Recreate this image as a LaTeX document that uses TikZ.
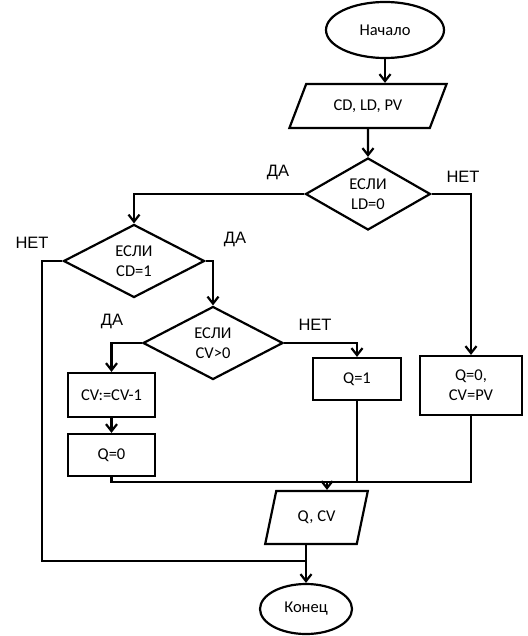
\documentclass[tikz,border=0pt]{standalone}
\usepackage{fontspec}
\setmainfont{Carlito}
\newfontfamily\labelfont{Liberation Sans}
\usetikzlibrary{arrows.meta,shapes.geometric}

\begin{document}
\begin{tikzpicture}[x=1pt,y=-1pt,line width=2.2pt,
                    >={Straight Barb[length=7pt,width=11pt]}]
            \useasboundingbox (0,0) rectangle (527,636);

            \begin{scope}[every node/.style={draw,line width=2.2pt,inner sep=0pt,align=center,
                                             font=\fontsize{16.5}{20}\selectfont}]
                \node[ellipse,minimum width=118pt,minimum height=56pt] (start) at (385,30) {Начало};
                \node[trapezium,trapezium left angle=54,trapezium right angle=126,
                      trapezium stretches=true,minimum width=158pt,minimum height=44pt] (in) at (368,106) {CD, LD, PV};
                \node[diamond,minimum width=125pt,minimum height=72pt] (ifLD) at (368,194) {ЕСЛИ\\LD=0};
                \node[diamond,minimum width=141pt,minimum height=73pt] (ifCD) at (134,261) {ЕСЛИ\\CD=1};
                \node[diamond,minimum width=140pt,minimum height=73pt] (ifCV) at (213,343) {ЕСЛИ\\CV>0};
                \node[minimum width=87pt,minimum height=44pt] (dec) at (111.5,395) {CV:=CV-1};
                \node[minimum width=87pt,minimum height=42pt] (q0) at (111.5,455) {Q=0};
                \node[minimum width=88pt,minimum height=42pt] (q1) at (357,379) {Q=1};
                \node[minimum width=102pt,minimum height=59pt] (load) at (471,385.5) {Q=0,\\CV=PV};
                \node[trapezium,trapezium left angle=68,trapezium right angle=112,
                      trapezium stretches=true,minimum width=103pt,minimum height=53pt] (out) at (316.5,517.5) {Q, CV};
                \node[ellipse,minimum width=92pt,minimum height=50pt] (end) at (306,609) {Конец};
            \end{scope}

            \begin{scope}[every node/.style={font=\labelfont\fontsize{16.5}{20}\selectfont}]
                \node (da1) at (278,172) {ДА};
                \node (net1) at (463,177) {НЕТ};
                \node (net2) at (32,243) {НЕТ};
                \node (da2) at (235,239) {ДА};
                \node (da3) at (112,321) {ДА};
                \node (net3) at (315,325) {НЕТ};
            \end{scope}

            \coordinate (back) at (42,561);
            \coordinate (merge) at (327,482);

            \draw[->] (start.south) -- (start.south |- in.north);
            \draw[->] (in.south) -- (ifLD.north);
            \draw[->] (ifLD.west) -| (ifCD.north);
            \draw[->] (ifLD.east) -| (load.north);
            \draw[->] (ifCD.east) -| (ifCV.north);
            \draw (ifCD.west) -| (back) -- (back -| end.north);
            \draw[->] (ifCV.west) -| (dec.north);
            \draw[->] (ifCV.east) -| (q1.north);
            \draw[->] (dec) -- (q0);
            \draw (q0.south) |- (merge);
            \draw (q1.south) |- (merge);
            \draw (load.south) |- (merge);
            \draw[->] (merge) -- (merge |- out.north);
            \draw[->] (end.north |- out.south) -- (end.north);
\end{tikzpicture}
\end{document}
